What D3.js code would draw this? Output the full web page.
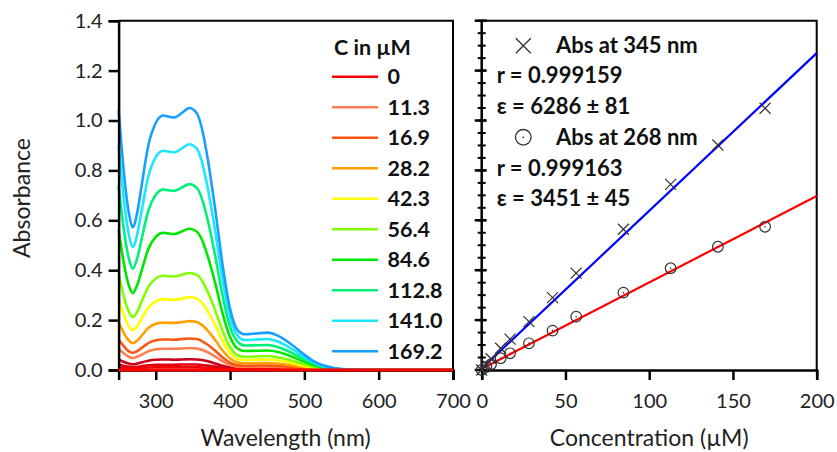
<!DOCTYPE html>
<html><head><meta charset="utf-8">
<script src="https://cdn.jsdelivr.net/npm/d3@7"></script>
<style>
html,body{margin:0;padding:0;background:#fff;}
svg text{font-family:Lato, "Open Sans", sans-serif;}
</style></head>
<body><svg id="c" width="837" height="452"></svg>
<script>
// ---------- DATA ----------
const wavelengths = [250,255,260,265,269,275,280,290,300,310,318,325,335,345,355,362,370,380,390,400,410,420,435,450,465,480,495,510,525,540,560,600,700];
const abs_0     = wavelengths.map(() => 0);
const abs_1_4   = [0.011,0.009,0.008,0.007,0.006,0.007,0.008,0.010,0.011,0.011,0.011,0.011,0.011,0.011,0.011,0.010,0.009,0.007,0.005,0.003,0.002,0.002,0.002,0.002,0.002,0.001,0.001,0.001,0,0,0,0,0];
const abs_2_8   = [0.022,0.018,0.015,0.013,0.012,0.013,0.015,0.019,0.021,0.021,0.021,0.021,0.022,0.022,0.022,0.020,0.018,0.014,0.009,0.005,0.003,0.003,0.003,0.003,0.003,0.002,0.002,0.001,0.001,0,0,0,0];
const abs_5_6   = [0.043,0.035,0.029,0.025,0.023,0.026,0.030,0.037,0.041,0.042,0.042,0.041,0.042,0.043,0.042,0.040,0.035,0.026,0.017,0.010,0.007,0.006,0.006,0.006,0.006,0.004,0.003,0.002,0.001,0,0,0,0];
const abs_11_3  = [0.084,0.072,0.060,0.051,0.048,0.053,0.060,0.075,0.083,0.085,0.085,0.085,0.086,0.088,0.086,0.081,0.071,0.054,0.035,0.021,0.013,0.012,0.012,0.013,0.011,0.009,0.006,0.003,0.002,0.001,0,0,0];
const abs_16_9  = [0.121,0.103,0.085,0.073,0.069,0.076,0.086,0.108,0.119,0.122,0.122,0.121,0.124,0.126,0.124,0.116,0.101,0.077,0.050,0.029,0.019,0.017,0.018,0.018,0.016,0.013,0.009,0.005,0.002,0.001,0,0,0];
const abs_28_2  = [0.191,0.161,0.133,0.114,0.107,0.118,0.134,0.168,0.185,0.190,0.189,0.189,0.192,0.196,0.192,0.181,0.158,0.120,0.078,0.046,0.030,0.027,0.027,0.028,0.025,0.020,0.013,0.007,0.003,0.001,0,0,0];
const abs_42_3  = [0.285,0.239,0.197,0.170,0.159,0.175,0.200,0.250,0.275,0.284,0.282,0.281,0.286,0.292,0.286,0.270,0.235,0.179,0.117,0.068,0.044,0.040,0.041,0.042,0.038,0.030,0.020,0.011,0.005,0.002,0.001,0,0];
const abs_56_4  = [0.385,0.319,0.263,0.226,0.212,0.233,0.267,0.333,0.367,0.378,0.376,0.375,0.382,0.389,0.382,0.359,0.313,0.239,0.156,0.091,0.059,0.053,0.054,0.056,0.050,0.040,0.027,0.015,0.007,0.003,0.001,0,0];
const abs_84_6  = [0.561,0.464,0.383,0.329,0.308,0.340,0.388,0.485,0.534,0.550,0.547,0.545,0.555,0.566,0.555,0.523,0.455,0.348,0.226,0.132,0.086,0.076,0.077,0.078,0.072,0.057,0.039,0.022,0.010,0.004,0.001,0,0];
const abs_112_8 = [0.737,0.610,0.504,0.433,0.406,0.447,0.511,0.639,0.702,0.724,0.720,0.718,0.731,0.745,0.731,0.688,0.600,0.458,0.298,0.174,0.114,0.098,0.099,0.100,0.091,0.073,0.050,0.028,0.013,0.005,0.001,0,0];
const abs_141_0 = [0.895,0.741,0.612,0.526,0.493,0.543,0.621,0.776,0.853,0.879,0.875,0.872,0.888,0.905,0.888,0.836,0.728,0.556,0.362,0.211,0.138,0.120,0.122,0.124,0.113,0.090,0.062,0.034,0.016,0.007,0.002,0,0];
const abs_169_2 = [1.040,0.860,0.710,0.610,0.572,0.630,0.720,0.900,0.990,1.020,1.015,1.012,1.030,1.050,1.030,0.970,0.845,0.645,0.420,0.245,0.160,0.143,0.146,0.150,0.137,0.108,0.073,0.040,0.019,0.008,0.002,0,0];

const legendLabels = ["0","11.3","16.9","28.2","42.3","56.4","84.6","112.8","141.0","169.2"];

const concPoints = [0, 2.8, 5.6, 11.3, 16.9, 28.2, 42.3, 56.4, 84.6, 112.8, 141.0, 169.2];
const abs345 = [0, 0.022, 0.045, 0.087, 0.124, 0.194, 0.290, 0.388, 0.564, 0.744, 0.902, 1.049];
const abs268 = [0, 0.012, 0.023, 0.047, 0.067, 0.107, 0.158, 0.214, 0.310, 0.408, 0.494, 0.574];
const fitConc = [0, 200];
const fit345 = [0.006, 1.270];
const fit268 = [0.005, 0.697];

const yTicks = [0, 0.2, 0.4, 0.6, 0.8, 1.0, 1.2, 1.4];
const xTicksL = [300, 400, 500, 600, 700];
const xTicksR = [0, 50, 100, 150, 200];

const legend345 = ["Abs at 345 nm", "r = 0.999159", "ε = 6286 ± 81"];
const legend268 = ["Abs at 268 nm", "r = 0.999163", "ε = 3451 ± 45"];

// ---------- STYLE ----------
const spectra = [
  {label:null,   color:"#f00000", v:abs_1_4},
  {label:null,   color:"#e00010", v:abs_2_8},
  {label:null,   color:"#c8001a", v:abs_5_6},
  {label:"11.3", color:"#ff7f50", v:abs_11_3},
  {label:"16.9", color:"#ff5514", v:abs_16_9},
  {label:"28.2", color:"#ffa000", v:abs_28_2},
  {label:"42.3", color:"#ffff00", v:abs_42_3},
  {label:"56.4", color:"#80ff00", v:abs_56_4},
  {label:"84.6", color:"#00e600", v:abs_84_6},
  {label:"112.8",color:"#00f07a", v:abs_112_8},
  {label:"141.0",color:"#1ee6ff", v:abs_141_0},
  {label:"169.2",color:"#18a0ff", v:abs_169_2},
  {label:"0",    color:"#ff0000", v:abs_0}
];
const legendColors = {"0":"#ff0000","11.3":"#ff7f50","16.9":"#ff5514","28.2":"#ffa000","42.3":"#ffff00","56.4":"#80ff00","84.6":"#00e600","112.8":"#00f07a","141.0":"#1ee6ff","169.2":"#18a0ff"};

const svg = d3.select("#c");
const plotTop = 20.7, plotBottom = 370;
const y = d3.scaleLinear().domain([0,1.4]).range([plotBottom, plotTop]);
const xL = d3.scaleLinear().domain([250,700]).range([118.6, 453]);
const xR = d3.scaleLinear().domain([0,200]).range([481.7, 816.7]);
const tickFont = 20, titleFont = 23, legFont = 21.5, rLegFont = 22;

// ---------- LEFT PANEL ----------
const gL = svg.append("g");
const line = d3.line().x((d,i)=>xL(wavelengths[i])).y(d=>y(d)).curve(d3.curveMonotoneX);
spectra.forEach(s=>{
  gL.append("path").attr("d", line(s.v)).attr("fill","none")
    .attr("stroke", s.color).attr("stroke-width", 2.6).attr("stroke-linejoin","round");
});
gL.append("path").attr("d",`M${xL(250)},${y(1.4)}H${xL(700)}V${y(0)}`).attr("fill","none").attr("stroke","#000").attr("stroke-width",2);
const yAxL = d3.axisLeft(y).tickValues(yTicks).tickFormat(d3.format(".1f")).tickSize(10).tickPadding(6);
const gyL = gL.append("g").attr("transform",`translate(${xL(250)},0)`).call(yAxL);
const xAxL = d3.axisBottom(xL).tickValues(xTicksL).tickSize(10).tickPadding(14);
const gxL = gL.append("g").attr("transform",`translate(0,${plotBottom})`).call(xAxL);
[gyL,gxL].forEach(g=>{
  g.select(".domain").attr("stroke","#000").attr("stroke-width",2.5);
  g.selectAll(".tick line").attr("stroke","#000").attr("stroke-width",2.5);
  g.selectAll(".tick text").attr("font-size",tickFont).attr("fill","#222");
});
gL.append("path").attr("d", line(abs_0)).attr("fill","none").attr("stroke","#ff0000").attr("stroke-width",3);

gL.append("text").attr("transform",`translate(29.5,198) rotate(-90)`).attr("text-anchor","middle")
  .attr("font-size",titleFont).attr("fill","#222").text("Absorbance");
gL.append("text").attr("x",285.5).attr("y",446).attr("text-anchor","middle")
  .attr("font-size",titleFont).attr("fill","#222").text("Wavelength (nm)");

const lg = gL.append("g");
lg.append("text").attr("x",334).attr("y",55).attr("font-size",legFont).attr("font-weight","bold").attr("fill","#111").text("C in µM");
legendLabels.forEach((lab,i)=>{
  const yy = 76.7 + i*30.5;
  lg.append("line").attr("x1",332).attr("x2",378).attr("y1",yy).attr("y2",yy)
    .attr("stroke",legendColors[lab]).attr("stroke-width",2.5);
  lg.append("text").attr("x",387.5).attr("y",yy+7.5).attr("font-size",legFont).attr("font-weight","bold").attr("fill","#111").text(lab);
});

// ---------- RIGHT PANEL ----------
const gR = svg.append("g");
gR.append("path").attr("d",`M${xR(0)},${y(1.4)}H${xR(200)}V${y(0)}`).attr("fill","none").attr("stroke","#000").attr("stroke-width",2);
const xAxR = d3.axisBottom(xR).tickValues(xTicksR).tickSize(10).tickPadding(14);
const gxR = gR.append("g").attr("transform",`translate(0,${plotBottom})`).call(xAxR);
gxR.select(".domain").attr("stroke","#000").attr("stroke-width",2.5);
gxR.selectAll(".tick line").attr("stroke","#000").attr("stroke-width",2.5);
gxR.selectAll(".tick text").attr("font-size",tickFont).attr("fill","#222");
const gyR = gR.append("g");
gyR.append("line").attr("x1",xR(0)).attr("x2",xR(0)).attr("y1",y(1.4)).attr("y2",y(0)).attr("stroke","#000").attr("stroke-width",2.5);
const minorTicks = d3.range(0, 1.4001, 0.05);
gyR.selectAll("line.mn").data(minorTicks).join("line").attr("class","mn")
  .attr("x1",xR(0)-4).attr("x2",xR(0)+4).attr("y1",d=>y(d)).attr("y2",d=>y(d)).attr("stroke","#000").attr("stroke-width",2);
gyR.selectAll("line.mj").data(yTicks).join("line").attr("class","mj")
  .attr("x1",xR(0)-7).attr("x2",xR(0)+5).attr("y1",d=>y(d)).attr("y2",d=>y(d)).attr("stroke","#000").attr("stroke-width",2.5);

const fitLine = (vals)=> d3.line().x((d,i)=>xR(fitConc[i])).y(d=>y(d))(vals);
gR.append("path").attr("d",fitLine(fit345)).attr("stroke","#0000ff").attr("stroke-width",2.2).attr("fill","none");
gR.append("path").attr("d",fitLine(fit268)).attr("stroke","#ff0000").attr("stroke-width",2.2).attr("fill","none");

const mk = "#333";
concPoints.forEach((c,i)=>{
  const cx = xR(c), cy = y(abs345[i]), s = 5.5;
  gR.append("path").attr("d",`M${cx-s},${cy-s}L${cx+s},${cy+s}M${cx-s},${cy+s}L${cx+s},${cy-s}`).attr("stroke",mk).attr("stroke-width",1.2);
});
concPoints.forEach((c,i)=>{
  const cx = xR(c), cy = y(abs268[i]);
  gR.append("circle").attr("cx",cx).attr("cy",cy).attr("r",5.3).attr("fill","none").attr("stroke",mk).attr("stroke-width",1.2);
  gR.append("circle").attr("cx",cx).attr("cy",cy).attr("r",0.8).attr("fill",mk);
});

const lx = 523.3;
gR.append("path").attr("d",`M${lx-7.5},${45.7-7.5}L${lx+7.5},${45.7+7.5}M${lx-7.5},${45.7+7.5}L${lx+7.5},${45.7-7.5}`).attr("stroke",mk).attr("stroke-width",1.3);
gR.append("circle").attr("cx",lx).attr("cy",137.3).attr("r",7.8).attr("fill","none").attr("stroke",mk).attr("stroke-width",1.3);
gR.append("circle").attr("cx",lx).attr("cy",137.3).attr("r",0.9).attr("fill",mk);
const rl = [[legend345[0],556,53.3],[legend345[1],496.7,83.3],[legend345[2],496.7,114],
            [legend268[0],556,145],[legend268[1],496.7,175.7],[legend268[2],496.7,205.7]];
rl.forEach(([t,xx,yy])=>{
  gR.append("text").attr("x",xx).attr("y",yy).attr("font-size",rLegFont).attr("font-weight","bold").attr("fill","#111").text(t);
});
gR.append("text").attr("x",649.2).attr("y",446).attr("text-anchor","middle")
  .attr("font-size",titleFont).attr("fill","#222").text("Concentration (µM)");
</script>
</body></html>
